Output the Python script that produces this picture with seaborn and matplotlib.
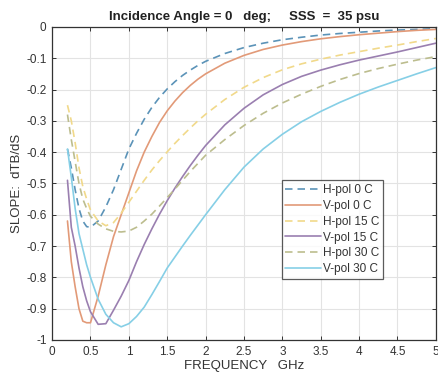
import numpy as np
import pandas as pd
import matplotlib
matplotlib.use("Agg")
import matplotlib.pyplot as plt
import seaborn as sns

# ------------------------------------------------------------------
# Data (slope dTB/dS vs frequency)
# ------------------------------------------------------------------
freq = [0.2, 0.25, 0.3, 0.35, 0.4, 0.45, 0.5, 0.6, 0.7, 0.8, 0.9, 1.0,
        1.1, 1.2, 1.3, 1.4, 1.5, 1.6, 1.7, 1.8, 1.9, 2.0,
        2.25, 2.5, 2.75, 3.0, 3.25, 3.5, 3.75, 4.0, 4.25, 4.5, 4.75, 5.0]

hpol_0 = [-0.39, -0.45, -0.52, -0.58, -0.62, -0.638, -0.64, -0.62, -0.575, -0.52,
          -0.455, -0.39, -0.34, -0.295, -0.257, -0.225, -0.198, -0.175, -0.155,
          -0.138, -0.123, -0.11,
          -0.085, -0.066, -0.052, -0.041, -0.033, -0.026, -0.021, -0.017, -0.013,
          -0.01, -0.008, -0.006]
vpol_0 = [-0.62, -0.75, -0.83, -0.90, -0.94, -0.945, -0.945, -0.86, -0.76, -0.67,
          -0.60, -0.53, -0.46, -0.40, -0.35, -0.305, -0.268, -0.237, -0.21,
          -0.187, -0.167, -0.15,
          -0.116, -0.091, -0.072, -0.058, -0.047, -0.038, -0.031, -0.025, -0.02,
          -0.015, -0.011, -0.008]
hpol_15 = [-0.25, -0.30, -0.37, -0.45, -0.51, -0.55, -0.585, -0.62, -0.635, -0.625,
           -0.595, -0.56, -0.525, -0.49, -0.457, -0.427, -0.399, -0.372, -0.347,
           -0.323, -0.30, -0.279,
           -0.232, -0.193, -0.162, -0.137, -0.118, -0.103, -0.09, -0.079, -0.068,
           -0.058, -0.047, -0.037]
vpol_15 = [-0.49, -0.64, -0.70, -0.77, -0.83, -0.875, -0.91, -0.95, -0.948, -0.905,
           -0.86, -0.81, -0.75, -0.695, -0.645, -0.598, -0.555, -0.515, -0.478,
           -0.443, -0.41, -0.379,
           -0.313, -0.26, -0.217, -0.184, -0.158, -0.138, -0.121, -0.106, -0.093,
           -0.08, -0.066, -0.052]
hpol_30 = [-0.28, -0.36, -0.43, -0.50, -0.55, -0.58, -0.605, -0.63, -0.645, -0.653,
           -0.655, -0.652, -0.64, -0.62, -0.598, -0.572, -0.545, -0.518, -0.49,
           -0.462, -0.436, -0.41,
           -0.36, -0.315, -0.276, -0.243, -0.215, -0.19, -0.168, -0.149, -0.133,
           -0.119, -0.106, -0.095]
vpol_30 = [-0.39, -0.48, -0.58, -0.66, -0.71, -0.76, -0.80, -0.87, -0.918, -0.945,
           -0.958, -0.948, -0.925, -0.895, -0.855, -0.813, -0.77, -0.735, -0.70,
           -0.666, -0.633, -0.60,
           -0.52, -0.448, -0.39, -0.343, -0.303, -0.27, -0.241, -0.215, -0.192,
           -0.171, -0.15, -0.13]

labels = ["H-pol 0 C", "V-pol 0 C", "H-pol 15 C", "V-pol 15 C", "H-pol 30 C", "V-pol 30 C"]
series = [hpol_0, vpol_0, hpol_15, vpol_15, hpol_30, vpol_30]
colors = ["#5b93b8", "#e29a78", "#f1d98a", "#9a7fb0", "#bcbd8e", "#86cfe6"]
dashed = [True, False, True, False, True, False]

xticks = [0, 0.5, 1, 1.5, 2, 2.5, 3, 3.5, 4, 4.5, 5]
yticks = [0, -0.1, -0.2, -0.3, -0.4, -0.5, -0.6, -0.7, -0.8, -0.9, -1]

# ------------------------------------------------------------------
# Plot
# ------------------------------------------------------------------
sns.set_theme(style="whitegrid")
plt.rcParams['font.family'] = ['Liberation Sans', 'DejaVu Sans']

fig = plt.figure(figsize=(4.38, 3.79), dpi=100)
ax = fig.add_axes([0.119, 0.103, 0.876, 0.826])

for lab, vals, col, dsh in zip(labels, series, colors, dashed):
    df = pd.DataFrame({"freq": freq, "slope": vals})
    sns.lineplot(data=df, x="freq", y="slope", ax=ax, color=col, linewidth=1.2,
                 label=lab, linestyle="--" if dsh else "-")

for ln, dsh in zip(ax.get_lines(), dashed):
    if dsh:
        ln.set_dashes((4.5, 3.0))

ax.set_xlim(0, 5)
ax.set_ylim(-1, 0)
ax.set_xticks(xticks)
ax.set_xticklabels([f"{t:g}" for t in xticks])
ax.set_yticks(yticks)
ax.set_yticklabels([f"{t:g}" for t in yticks])

ax.grid(True, color="#e3e3e3", linewidth=0.8)
ax.set_facecolor("white")
for sp in ax.spines.values():
    sp.set_color("#333333")
    sp.set_linewidth(0.9)

ax.tick_params(axis="both", direction="in", length=3, width=0.7, colors="#333333",
               labelsize=8.5, labelcolor="#333333", top=True, right=True,
               bottom=True, left=True, pad=4)

ax.set_xlabel("FREQUENCY   GHz", fontsize=9.5, color="#333333", labelpad=2)
ax.set_ylabel("SLOPE:  dTB/dS", fontsize=9.5, color="#333333", labelpad=2)
ax.set_title("Incidence Angle = 0   deg;     SSS  =  35 psu", fontsize=9.5,
             fontweight="bold", color="#222222", pad=5)

leg = ax.legend(loc="lower left", bbox_to_anchor=(0.598, 0.195), fontsize=8.5,
                frameon=True, fancybox=False, handlelength=3.0, handletextpad=0.2,
                borderpad=0.3, labelspacing=0.33, borderaxespad=0)
leg.get_frame().set_edgecolor("#333333")
leg.get_frame().set_linewidth(0.9)
for txt in leg.get_texts():
    txt.set_color("#333333")

fig.savefig("out.png", dpi=100)
